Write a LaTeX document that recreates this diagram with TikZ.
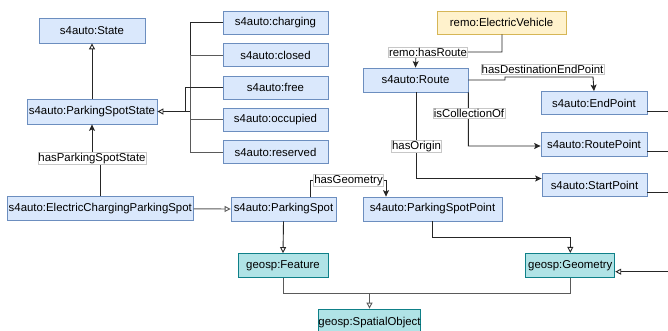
\documentclass[tikz,border=0pt]{standalone}
\usepackage{fontspec}
\setmainfont{Liberation Sans}
\usetikzlibrary{arrows.meta}
\definecolor{bfill}{HTML}{DAE8FC}
\definecolor{bdraw}{HTML}{6C8EBF}
\definecolor{tfill}{HTML}{B0E3E6}
\definecolor{tdraw}{HTML}{0E8088}
\definecolor{yfill}{HTML}{FFF2CC}
\definecolor{ydraw}{HTML}{D6B656}
\definecolor{lgray}{HTML}{5A5A5A}
\tikzset{
  box/.style={draw=bdraw, fill=bfill, line width=0.8pt, inner sep=0pt, minimum height=24pt,
    font=\fontsize{11.4}{13}\selectfont},
  tbox/.style={box, draw=tdraw, fill=tfill},
  ybox/.style={box, draw=ydraw, fill=yfill},
  lbl/.style={draw=black!22, fill=white, line width=0.5pt, inner sep=0.6pt,
    font=\fontsize{11.4}{13}\selectfont},
  conn/.style={line width=0.9pt, draw=black!85},
  gconn/.style={line width=0.9pt, draw=lgray},
  hollow/.style={-{Triangle[open, length=6pt, width=6pt]}},
  filled/.style={-{Stealth[length=6.5pt, width=6pt, inset=1.5pt]}},
}
\begin{document}
\begin{tikzpicture}[x=1pt, y=-1pt]
\clip (0,0) rectangle (668,331);
\fill[white] (0,0) rectangle (668,331);

% nodes
\node[box, minimum width=106pt, minimum height=25pt] (state) at (92,30.5) {s4auto:State};
\node[box, minimum width=130pt, minimum height=25pt] (pss) at (92,111.5) {s4auto:ParkingSpotState};
\node[box, minimum width=105pt, minimum height=23pt] (charging) at (275.5,22.5) {s4auto:charging};
\node[box, minimum width=105pt, minimum height=23pt] (closed) at (275.5,55) {s4auto:closed};
\node[box, minimum width=105pt, minimum height=23pt] (free) at (275.5,87.5) {s4auto:free};
\node[box, minimum width=105pt, minimum height=23pt] (occupied) at (275.5,119.5) {s4auto:occupied};
\node[box, minimum width=105pt, minimum height=23pt] (reserved) at (275.5,152) {s4auto:reserved};
\node[box, minimum width=186pt] (ecps) at (100.3,208.8) {s4auto:ElectricChargingParkingSpot};
\node[box, minimum width=105pt] (ps) at (283.5,209) {s4auto:ParkingSpot};
\node[box, minimum width=139pt] (psp) at (432.5,209) {s4auto:ParkingSpotPoint};
\node[tbox, minimum width=90pt] (feature) at (283,265.5) {geosp:Feature};
\node[tbox, minimum width=89pt] (geometry) at (570.3,265.3) {geosp:Geometry};
\node[tbox, minimum width=102pt, minimum height=28pt] (spatial) at (369.5,323) {geosp:SpatialObject};
\node[ybox, minimum width=129pt, minimum height=23pt] (ev) at (501.5,22.5) {remo:ElectricVehicle};
\node[box, minimum width=105pt] (route) at (415.5,80) {s4auto:Route};
\node[box, minimum width=106pt, minimum height=23pt] (endpoint) at (594,103) {s4auto:EndPoint};
\node[box, minimum width=106pt] (routepoint) at (594,144.7) {s4auto:RoutePoint};
\node[box, minimum width=105pt, minimum height=23.4pt] (startpoint) at (594.5,185) {s4auto:StartPoint};

% coordinates
\coordinate (jA) at (190,111.5);
\coordinate (jB) at (185,111.5);
\coordinate (pssIn) at (92,158.5);
\coordinate (ecpsUp) at (100,158.5);
\coordinate (fjoin) at (283,293);
\coordinate (gjoin) at (570.3,293);
\coordinate (pspTurn) at (432.5,237);
\coordinate (geoTop) at (570.3,237);
\coordinate (hgA) at (310,180.5);
\coordinate (hgB) at (386,180.5);
\coordinate (evDown) at (502,52);
\coordinate (rtTop) at (416,52);
\coordinate (dA) at (505,80);
\coordinate (dB) at (505,77);
\coordinate (dC) at (593,77);
\coordinate (icA) at (468.3,146);
\coordinate (hoA) at (416,178.5);
\coordinate (eR) at (668,111);
\coordinate (rR) at (668,151.7);
\coordinate (sR) at (668,192.3);
\coordinate (gR) at (668,271.7);

% subclass edges
\draw[conn, hollow] (pss.north) -- (state.south);
\draw[conn] (charging.west) -- (charging.west -| jA) -- (jA);
\draw[gconn] (closed.west) -- (closed.west -| jA) -- (jA);
\draw[gconn] (occupied.west) -- (occupied.west -| jA) -- (jA);
\draw[gconn] (reserved.west) -- (reserved.west -| jA) -- (jA);
\draw[conn] (free.west) -- (free.west -| jB) -- (jB);
\draw[conn, hollow] (jA) -- (pss.east);
\draw[gconn, hollow] (ecps.east) -- (ps.west);
\draw[conn, hollow] (ps.south) -- (feature.north);
\draw[gconn] (feature.south) -- (fjoin) -- (fjoin -| spatial.north);
\draw[gconn, hollow] (geometry.south) -- (gjoin) -- (gjoin -| spatial.north) -- (spatial.north);
\draw[conn, hollow] (psp.south) -- (pspTurn) -- (geoTop) -- (geometry.north);
\draw[conn, hollow] (gR) -- (geometry.east |- gR);

% property edges
\draw[conn, filled] (ecps.north -| ecpsUp) -- (ecpsUp) -- (pssIn) -- (pss.south);
\node[lbl] (lpss) at (92,158.5) {hasParkingSpotState};
\draw[conn, filled] (ps.north -| hgA) -- (hgA) -- (hgB) -- (psp.north -| hgB);
\node[lbl] (lgeo) at (348.5,180.5) {hasGeometry};
\draw[conn, filled] (ev.south -| evDown) -- (evDown) -- (rtTop) -- (route.north);
\node[lbl] (lroute) at (428,52) {remo:hasRoute};
\draw[conn, filled] (route.east) -- (dA) -- (dB) -- (dC) -- (endpoint.north);
\node[lbl] (ldest) at (542.5,69.2) {hasDestinationEndPoint};
\draw[conn, filled] (route.south east) -- (icA) -- (routepoint.west |- icA);
\node[lbl] (lcoll) at (469,113) {isCollectionOf};
\draw[conn, filled] (route.south -| hoA) -- (hoA) -- (startpoint.west |- hoA);
\node[lbl] (lorig) at (416.5,146.5) {hasOrigin};

% lines leaving to the right
\draw[conn] (endpoint.east |- eR) -- (eR);
\draw[conn] (routepoint.east |- rR) -- (rR);
\draw[conn] (startpoint.east |- sR) -- (sR);
\end{tikzpicture}
\end{document}
